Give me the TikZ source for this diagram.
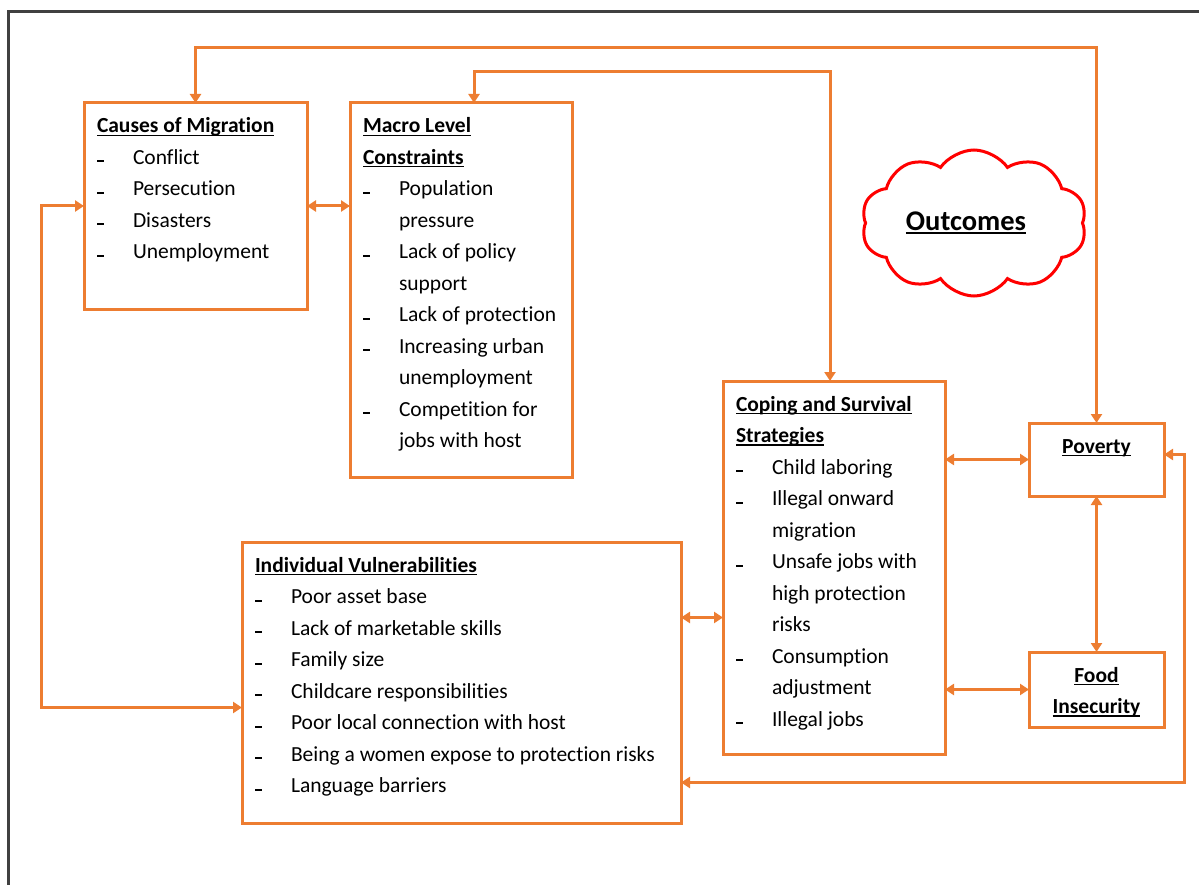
\documentclass[tikz,border=0pt]{standalone}
\usepackage{fontspec}
\setmainfont{Carlito}[Ligatures={NoCommon}]
\usetikzlibrary{arrows.meta, positioning, shapes.symbols}

\definecolor{boxorange}{HTML}{ED7D31}
\definecolor{framegray}{HTML}{404040}

\newlength{\ulwidth}
\newcommand{\hd}[1]{\leavevmode\settowidth{\ulwidth}{\textbf{#1}}\rlap{\rule[-3pt]{\ulwidth}{1.4pt}}\textbf{#1}}
\newcommand{\itm}[1]{\par\noindent\hangindent=36pt\hangafter=1\makebox[36pt][l]{\rule[2pt]{7pt}{2pt}}#1}
\newcommand{\boxtext}[3]{\parbox[t][#2][t]{#1}{\rule{0pt}{16pt}#3}}

\tikzset{
	box/.style={
		draw=boxorange,
		line width=3pt,
		anchor=north west,
		inner xsep=13pt,
		inner ysep=14pt,
		outer sep=0pt,
		font=\fontsize{21.5}{31.5}\selectfont
	},
	link/.style={
		draw=boxorange,
		line width=3pt,
		<->,
		>={Triangle[length=9pt,width=11pt]}
	}
}

\begin{document}
\begin{tikzpicture}[x=1pt, y=-1pt]
	\useasboundingbox (0,0) rectangle (1199,885);
	\draw[
		color=framegray,
		line width=3pt
	] (1199,12) -- (8,12) -- (8,885);

	\node[box] (causes) at (84,103) {\boxtext{197pt}{178pt}{\hd{Causes of Migration}
		\itm{Conflict}
		\itm{Persecution}
		\itm{Disasters}
		\itm{Unemployment}}};
	\node[box] (macro) at (350,103) {\boxtext{196pt}{346pt}{\hd{Macro Level}\newline\hd{Constraints}
		\itm{Population\newline pressure}
		\itm{Lack of policy\newline support}
		\itm{Lack of protection}
		\itm{Increasing urban\newline unemployment}
		\itm{Competition for\newline jobs with host}}};
	\node[box] (coping) at (723,381) {\boxtext{196pt}{345pt}{\hd{Coping and Survival}\newline\hd{Strategies}
		\itm{Child laboring}
		\itm{Illegal onward\newline migration}
		\itm{Unsafe jobs with\newline high protection\newline risks}
		\itm{Consumption\newline adjustment}
		\itm{Illegal jobs}}};
	\node[box] (individual) at (242,542) {\boxtext{413pt}{253pt}{\hd{Individual Vulnerabilities}
		\itm{Poor asset base}
		\itm{Lack of marketable skills}
		\itm{Family size}
		\itm{Childcare responsibilities}
		\itm{Poor local connection with host}
		\itm{Being a women expose to protection risks}
		\itm{Language barriers}}};
	\node[box] (poverty) at (1029,423) {\boxtext{109pt}{45pt}{\centering\hd{Poverty}\par}};
	\node[box] (food) at (1029,652) {\boxtext{109pt}{47pt}{\centering\hd{Food}\\\hd{Insecurity}\par}};

	\node[
		cloud,
		draw=red,
		line width=3pt,
		cloud puffs=10,
		cloud puff arc=110,
		cloud ignores aspect,
		minimum width=225pt,
		minimum height=146pt
	] (outcomes) at (974,223) {\fontsize{28.5}{34}\selectfont\hd{Outcomes}\kern16pt};

	% connectors
	\coordinate (ivin) at ([yshift=65pt]individual.east);
	\coordinate (povout) at ([yshift=5pt]poverty.east);
	\draw[link] (causes.north) -- ++(0,-55) -| (poverty.north);
	\draw[link] ([xshift=13pt]macro.north) -- ++(0,-31) -| ([xshift=-4pt]coping.north);
	\draw[link] (causes.east) -- (causes.east -| macro.west);
	\draw[link] (causes.west) -- ++(-43,0) |- ([yshift=-25pt]individual.west);
	\draw[link] (ivin) -- (ivin -| coping.west);
	\draw[link] (coping.east |- poverty.west) -- (poverty.west);
	\draw[link] (coping.east |- food.west) -- (food.west);
	\draw[link] (poverty.south) -- (food.north);
	\draw[link] (povout) -- ++(20,0) |- ([yshift=-100pt]individual.east);
\end{tikzpicture}
\end{document}
